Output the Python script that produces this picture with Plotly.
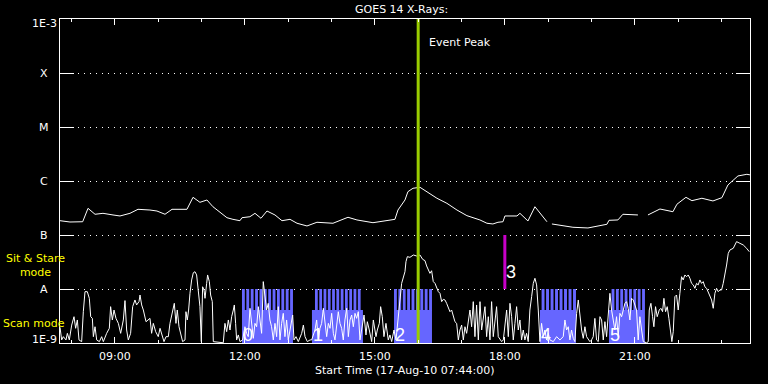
import numpy as np
import pandas as pd
import plotly.graph_objects as go

START = pd.Timestamp("2010-08-17 07:44:00")
END = pd.Timestamp("2010-08-17 23:39:30")
EVENT_PEAK = "2010-08-17 16:00:00"
EVENT3_TIME = "2010-08-17 18:00:00"
EVENT3_RANGE = [1e-8, 1e-7]

# (minutes after start, flux W/m^2) -- long channel (upper curve)
LONG = [
    (0, 1.84e-7), (13.8, 1.74e-7), (31.4, 1.76e-7), (38.8, 3.12e-7), (48.5, 2.42e-7),
    (59.5, 2.52e-7), (73.4, 2.35e-7), (83.1, 2.25e-7), (96.9, 2.52e-7), (108, 2.99e-7),
    (124.6, 2.90e-7), (134.3, 2.78e-7), (145.4, 2.42e-7), (155.1, 2.99e-7), (175.8, 2.99e-7),
    (180, 3.86e-7), (184.2, 4.99e-7), (193.8, 4.03e-7), (203.5, 4.45e-7), (211.8, 3.34e-7),
    (221.5, 2.59e-7), (231.2, 2.09e-7), (239.5, 1.95e-7), (249.2, 1.84e-7), (252, 2.09e-7),
    (263, 2.18e-7), (270, 2.52e-7), (278.3, 2.04e-7), (286.6, 2.78e-7), (297.7, 2.35e-7),
    (307.4, 1.84e-7), (318.5, 1.95e-7), (328.2, 1.65e-7), (342, 1.47e-7), (355.8, 1.72e-7),
    (378, 1.65e-7), (398.8, 2.13e-7), (411.2, 1.90e-7), (433.4, 1.69e-7), (447.2, 1.82e-7),
    (463.8, 1.95e-7), (468, 2.90e-7), (477.7, 4.45e-7), (481.8, 6.34e-7), (488.8, 7.33e-7),
    (498.5, 7.64e-7), (508.2, 6.34e-7), (522, 4.79e-7), (535.8, 3.86e-7), (549.7, 2.90e-7),
    (563.5, 2.28e-7), (581.5, 1.90e-7), (591.2, 1.65e-7), (599.5, 1.60e-7), (606.5, 1.72e-7),
    (613.4, 1.76e-7), (616.1, 2.25e-7), (632.8, 2.25e-7), (636.9, 2.52e-7), (648, 1.82e-7),
    (657.7, 3.34e-7), (667.4, 2.25e-7), (674.3, 1.76e-7), (677, None), (681.2, 1.60e-7),
    (696.5, 1.49e-7), (710.3, 1.39e-7), (731.1, 1.35e-7), (743.5, 1.47e-7), (757.4, 1.58e-7),
    (760.2, 1.87e-7), (772.6, 1.90e-7), (779.5, 2.42e-7), (800.3, 2.35e-7), (807, None),
    (814.2, 2.35e-7), (830.8, 3.03e-7), (848.8, 2.70e-7), (854.3, 3.71e-7), (866.8, 4.99e-7),
    (875.1, 4.32e-7), (888.9, 4.79e-7), (904.2, 4.27e-7), (916.6, 4.91e-7), (924.9, 8.43e-7),
    (938.8, 1.24e-6), (951.2, 1.33e-6), (955.4, 1.30e-6),
]

# (minutes after start, flux W/m^2) -- short channel (lower curve)
SHORT = [
    (0.0, 1.95e-9), (2.3, 1.14e-9), (4.6, 1.31e-9), (8.3, 1.14e-9), (10.2, 1.51e-9),
    (12.9, 1.14e-9), (16.2, 2.15e-9), (19.4, 3.07e-9), (21.7, 1.87e-9), (24.0, 2.67e-9),
    (26.3, 1.14e-9), (30.0, 1.06e-9), (32.3, 3.80e-9), (34.6, 8.92e-9), (37.8, 8.92e-9),
    (40.6, 6.72e-9), (42.5, 3.07e-9), (44.8, 2.86e-9), (46.2, 1.31e-9), (48.5, 2.00e-9),
    (50.8, 1.14e-9), (54.5, 1.06e-9), (57.7, 1.31e-9), (60.0, 1.06e-9), (64.6, 1.51e-9),
    (68.3, 1.87e-9), (70.1, 4.71e-9), (72.5, 2.67e-9), (74.8, 4.08e-9), (77.5, 2.86e-9),
    (80.8, 2.31e-9), (84.0, 1.51e-9), (87.7, 2.67e-9), (90.0, 6.10e-9), (92.3, 1.74e-9),
    (94.6, 1.14e-9), (97.8, 1.51e-9), (100.6, 4.71e-9), (103.8, 6.26e-9), (106.1, 5.06e-9),
    (109.4, 5.83e-9), (110.8, 7.74e-9), (113.1, 5.06e-9), (115.4, 4.08e-9), (119.1, 2.48e-9),
    (122.3, 2.67e-9), (124.6, 2.86e-9), (126.9, 1.51e-9), (129.2, 2.31e-9), (132.5, 1.62e-9),
    (136.1, 1.31e-9), (138.5, 1.87e-9), (140.8, 1.51e-9), (144.0, 1.06e-9), (146.8, 1.31e-9),
    (150.0, 1.31e-9), (152.3, 2.31e-9), (156.0, 3.80e-9), (158.3, 5.43e-9), (160.6, 2.31e-9),
    (162.4, 4.08e-9), (164.8, 2.00e-9), (167.1, 1.51e-9), (169.8, 1.06e-9), (173.1, 1.14e-9),
    (174.4, 3.80e-9), (176.3, 2.67e-9), (178.1, 4.08e-9), (180.0, 8.31e-9), (182.3, 1.47e-8),
    (184.6, 2.00e-8), (186.9, 2.09e-8), (189.2, 1.82e-8), (191.5, 1.03e-8), (193.8, 4.71e-9),
    (195.7, 1.06e-9), (197.5, 1.10e-8), (199.4, 9.58e-9), (200.8, 6.72e-9), (203.1, 1.27e-8),
    (204.4, 1.82e-8), (206.8, 1.37e-8), (208.6, 7.74e-9), (210.9, 5.83e-9), (212.3, 1.06e-9),
    (226.1, 1.01e-9), (228.4, 2.31e-9), (230.8, 1.62e-9), (233.1, 2.67e-9), (235.4, 1.74e-9),
    (237.7, 3.07e-9), (240.0, 4.08e-9), (241.4, 5.06e-9), (243.2, 2.31e-9), (244.6, 1.14e-9),
    (246.9, 1.41e-9), (249.2, 1.06e-9), (252.9, 1.14e-9), (256.1, 2.00e-9), (258.4, 1.51e-9),
    (260.7, 1.31e-9), (263.1, 4.39e-9), (265.4, 2.31e-9), (267.7, 1.22e-9), (270.0, 2.31e-9),
    (272.3, 2.00e-9), (274.6, 4.71e-9), (276.9, 2.67e-9), (279.2, 1.51e-9), (281.5, 1.37e-8),
    (283.8, 6.72e-9), (286.1, 4.08e-9), (288.4, 5.43e-9), (290.7, 2.67e-9), (293.0, 2.00e-9),
    (295.4, 1.14e-9), (297.7, 2.31e-9), (300.0, 1.31e-9), (302.3, 4.71e-9), (304.6, 1.14e-9),
    (306.9, 2.31e-9), (309.2, 3.54e-9), (311.5, 1.31e-9), (313.8, 2.67e-9), (316.1, 1.14e-9),
    (318.5, 1.74e-9), (322.2, 3.30e-9), (324.0, 1.14e-9), (326.8, 1.31e-9), (330.0, 1.06e-9),
    (334.7, 1.51e-9), (337.0, 2.15e-9), (339.3, 1.31e-9), (342.5, 1.06e-9), (346.2, 1.14e-9),
    (348.5, 1.14e-9), (353.1, 1.74e-9), (355.4, 2.67e-9), (357.7, 1.14e-9), (360.0, 1.87e-9),
    (362.3, 2.31e-9), (364.7, 4.39e-9), (367.0, 2.67e-9), (369.3, 1.31e-9), (371.6, 2.31e-9),
    (373.9, 1.87e-9), (376.2, 3.54e-9), (378.5, 1.51e-9), (380.8, 1.14e-9), (383.1, 2.00e-9),
    (385.4, 3.80e-9), (387.7, 2.31e-9), (390.0, 1.87e-9), (392.3, 1.14e-9), (394.6, 2.67e-9),
    (397.0, 4.39e-9), (399.3, 1.31e-9), (401.6, 2.67e-9), (403.9, 3.30e-9), (406.2, 2.00e-9),
    (408.5, 3.54e-9), (410.8, 2.86e-9), (413.1, 3.80e-9), (415.4, 1.14e-9), (417.7, 1.87e-9),
    (421.0, 3.30e-9), (423.7, 1.41e-9), (425.6, 2.48e-9), (428.3, 1.74e-9), (431.6, 1.06e-9),
    (433.9, 2.67e-9), (437.6, 1.31e-9), (439.4, 1.74e-9), (442.2, 2.31e-9), (444.0, 4.71e-9),
    (446.3, 3.07e-9), (448.6, 1.31e-9), (451.4, 2.31e-9), (454.6, 1.14e-9), (456.9, 1.41e-9),
    (459.3, 1.06e-9), (462.5, 1.74e-9), (465.3, 1.14e-9), (468.5, 3.80e-9), (470.8, 6.26e-9),
    (473.1, 1.27e-8), (475.4, 1.58e-8), (477.7, 2.09e-8), (479.1, 3.21e-8), (481.0, 3.97e-8),
    (484.6, 3.86e-8), (489.3, 4.26e-8), (493.9, 4.09e-8), (498.5, 4.26e-8), (502.2, 3.54e-8),
    (505.4, 3.35e-8), (507.7, 2.67e-8), (510.0, 2.31e-8), (512.3, 1.95e-8), (514.6, 2.18e-8),
    (516.9, 1.37e-8), (519.3, 1.27e-8), (521.6, 1.03e-8), (523.9, 8.92e-9), (526.2, 8.31e-9),
    (528.5, 5.83e-9), (530.8, 6.44e-9), (533.1, 6.26e-9), (535.4, 5.43e-9), (537.7, 4.39e-9),
    (540.0, 3.80e-9), (542.3, 4.08e-9), (544.6, 3.07e-9), (546.9, 2.48e-9), (549.3, 2.31e-9),
    (551.6, 1.14e-9), (553.9, 1.74e-9), (556.2, 2.15e-9), (558.5, 1.14e-9), (560.8, 2.00e-9),
    (563.1, 1.51e-9), (565.4, 2.67e-9), (567.7, 4.08e-9), (570.0, 2.00e-9), (572.3, 5.83e-9),
    (574.6, 1.31e-9), (576.9, 5.06e-9), (579.3, 1.14e-9), (581.6, 5.83e-9), (583.9, 1.74e-9),
    (586.2, 3.07e-9), (588.5, 4.71e-9), (590.8, 1.31e-9), (593.1, 3.07e-9), (595.4, 1.14e-9),
    (597.7, 5.83e-9), (600.0, 1.31e-9), (602.3, 2.31e-9), (604.6, 4.71e-9), (606.9, 1.31e-9),
    (609.3, 1.14e-9), (611.6, 1.06e-9), (613.9, 1.14e-9), (616.2, 2.31e-9), (618.5, 4.08e-9),
    (620.8, 1.31e-9), (623.1, 5.43e-9), (625.4, 3.07e-9), (627.7, 1.14e-9), (630.0, 2.31e-9),
    (632.3, 4.71e-9), (634.6, 1.74e-9), (636.9, 2.67e-9), (639.2, 1.14e-9), (641.5, 1.74e-9),
    (643.8, 1.14e-9), (646.1, 1.51e-9), (648.4, 1.06e-9), (650.7, 4.08e-9), (653.1, 7.21e-9),
    (655.4, 1.27e-8), (657.7, 1.58e-8), (660.0, 1.19e-8), (662.3, 4.08e-9), (664.6, 1.06e-9),
    (666.9, 2.31e-9), (669.2, 1.31e-9), (671.5, 1.74e-9), (673.8, 1.14e-9), (676.1, 1.51e-9),
    (678.4, 1.14e-9), (683.1, 1.06e-9), (687.7, 1.31e-9), (692.3, 1.14e-9), (696.9, 1.31e-9),
    (699.2, 2.67e-9), (701.5, 1.74e-9), (703.8, 2.00e-9), (706.1, 1.14e-9), (708.4, 1.74e-9),
    (710.7, 1.22e-9), (713.0, 1.06e-9), (715.4, 3.54e-9), (717.7, 6.26e-9), (720.0, 3.07e-9),
    (722.3, 1.74e-9), (724.6, 1.22e-9), (726.9, 2.00e-9), (729.2, 1.31e-9), (731.5, 1.14e-9),
    (733.8, 1.06e-9), (736.1, 1.14e-9), (738.4, 1.31e-9), (740.7, 2.86e-9), (743.0, 1.14e-9),
    (745.4, 1.06e-9), (747.7, 3.07e-9), (750.0, 2.67e-9), (752.3, 1.14e-9), (754.6, 2.48e-9),
    (756.9, 1.31e-9), (759.2, 3.30e-9), (761.5, 8.31e-9), (763.8, 4.08e-9), (766.1, 2.67e-9),
    (768.4, 1.74e-9), (770.7, 3.07e-9), (773.0, 1.31e-9), (775.4, 3.54e-9), (777.7, 3.07e-9),
    (780.0, 4.08e-9), (782.3, 5.43e-9), (784.6, 5.83e-9), (786.9, 4.39e-9), (789.2, 2.67e-9),
    (791.5, 6.72e-9), (793.8, 6.26e-9), (796.1, 5.06e-9), (798.4, 4.08e-9), (800.7, 1.14e-9),
    (803.0, 3.07e-9), (805.4, 1.74e-9), (807.7, 1.06e-9), (812.3, 1.01e-9), (814.6, 1.06e-9),
    (816.0, 4.08e-9), (818.3, 5.43e-9), (820.6, 3.07e-9), (822.4, 2.00e-9), (824.7, 4.71e-9),
    (827.0, 3.07e-9), (829.8, 4.08e-9), (832.1, 4.39e-9), (834.4, 3.80e-9), (836.3, 6.72e-9),
    (838.6, 3.80e-9), (840.9, 4.71e-9), (843.2, 2.86e-9), (845.5, 1.74e-9), (847.3, 1.06e-9),
    (849.2, 1.62e-9), (851.5, 7.21e-9), (853.8, 7.74e-9), (856.1, 4.08e-9), (858.4, 8.31e-9),
    (860.7, 1.69e-8), (863.0, 1.47e-8), (865.3, 1.82e-8), (867.7, 1.69e-8), (870.0, 1.82e-8),
    (872.3, 1.58e-8), (874.6, 1.27e-8), (876.9, 1.19e-8), (879.2, 1.03e-8), (881.5, 1.27e-8),
    (883.8, 1.19e-8), (886.1, 1.47e-8), (888.4, 1.27e-8), (890.7, 1.37e-8), (893.0, 1.10e-8),
    (895.4, 1.03e-8), (897.7, 8.92e-9), (900.0, 7.74e-9), (902.3, 6.26e-9), (904.6, 4.39e-9),
    (906.9, 8.31e-9), (909.2, 1.03e-8), (911.5, 8.92e-9), (913.8, 9.58e-9), (916.1, 9.58e-9),
    (918.4, 1.27e-8), (920.7, 1.82e-8), (923.1, 2.78e-8), (925.4, 4.57e-8), (927.7, 5.28e-8),
    (932.3, 5.67e-8), (936.9, 7.53e-8), (941.5, 7.02e-8), (946.2, 6.53e-8), (950.8, 5.67e-8),
    (954.5, 4.91e-8),
]

# Scan blocks: label, fill start, fill end, stripe start, stripe end (minutes after start), stripe count
SCAN_BLOCKS = [
    ("0", 252.0, 322.6, 252.0, 322.6, 12),
    ("1", 348.9, 419.5, 353.1, 416.3, 11),
    ("2", 462.5, 515.1, 462.5, 515.1, 9),
    ("4", 664.6, 714.5, 666.9, 714.5, 8),
    ("5", 760.2, 810.0, 763.8, 810.0, 8),
]
SCAN_LEVEL = 4.08e-9
STARE_LEVEL = 1e-8
YFLOOR = 1e-9

Y_TICKS = [1e-9, 1e-8, 1e-7, 1e-6, 1e-5, 1e-4, 1e-3]
Y_TEXT = ["1E-9", "A", "B", "C", "M", "X", "1E-3"]


def t(m):
    return START + pd.Timedelta(minutes=m)


fig = go.Figure()

# blue scan / sit-stare blocks
bx, by = [], []
for lab, f0, f1, s0, s1, n in SCAN_BLOCKS:
    bx += [t(f0), t(f1), t(f1), t(f0), t(f0), None]
    by += [YFLOOR, YFLOOR, SCAN_LEVEL, SCAN_LEVEL, YFLOOR, None]
    p = (s1 - s0) / (n - 1 + 0.65)
    w = 0.65 * p
    for k in range(n):
        xa = s0 + k * p
        xb = xa + w
        bx += [t(xa), t(xb), t(xb), t(xa), t(xa), None]
        by += [SCAN_LEVEL * 0.98, SCAN_LEVEL * 0.98, STARE_LEVEL, STARE_LEVEL, SCAN_LEVEL * 0.98, None]
fig.add_trace(go.Scatter(x=bx, y=by, mode="lines", fill="toself", fillcolor="#6666ff",
                         line=dict(width=0, color="#6666ff"), hoverinfo="skip", showlegend=False))

fig.add_trace(go.Scatter(x=[t(m) for m, v in SHORT], y=[v for m, v in SHORT], mode="lines",
                         line=dict(color="white", width=1), showlegend=False))
fig.add_trace(go.Scatter(x=[t(m) for m, v in LONG], y=[v for m, v in LONG], mode="lines",
                         line=dict(color="white", width=1), connectgaps=False, showlegend=False))

fig.add_trace(go.Scatter(x=[EVENT_PEAK, EVENT_PEAK], y=[1e-9, 1e-3], mode="lines",
                         line=dict(color="#99cc00", width=3), showlegend=False))
fig.add_trace(go.Scatter(x=[EVENT3_TIME, EVENT3_TIME], y=EVENT3_RANGE, mode="lines",
                         line=dict(color="#c800c8", width=3), showlegend=False))

PW, PH, L, T = 690, 324, 60, 19
FIG_W, FIG_H = 768, 384


def px(xp):
    return (xp - L) / PW


def py(yp):
    return (T + PH - yp) / PH


FONT = "DejaVu Sans"
ann = []
ycent = {"1E-3": 23, "X": 73.5, "M": 127.5, "C": 181.5, "B": 235.5, "A": 289.5, "1E-9": 339.5}
for v, s in zip(Y_TICKS, Y_TEXT):
    ann.append(dict(text=s, xref="paper", yref="paper", x=px(44), y=py(ycent[s]),
                    xanchor="center", yanchor="middle", showarrow=False,
                    font=dict(family=FONT, size=11, color="white")))
ann.append(dict(text="Sit & Stare<br>mode", xref="paper", yref="paper", x=px(35), y=py(265),
                xanchor="center", yanchor="middle", showarrow=False,
                font=dict(family=FONT, size=11, color="#ffff00")))
ann.append(dict(text="Scan mode", xref="paper", yref="paper", x=px(1), y=py(323.5),
                xanchor="left", yanchor="middle", showarrow=False,
                font=dict(family=FONT, size=11, color="#ffff00")))
ann.append(dict(text="Event Peak", xref="paper", yref="paper", x=px(427), y=py(42.5),
                xanchor="left", yanchor="middle", showarrow=False,
                font=dict(family=FONT, size=11, color="white")))
ann.append(dict(text="GOES 14 X-Rays:", xref="paper", yref="paper", x=px(401), y=py(9),
                xanchor="center", yanchor="middle", showarrow=False,
                font=dict(family=FONT, size=11, color="white")))
ann.append(dict(text="Start Time (17-Aug-10 07:44:00)", xref="paper", yref="paper", x=px(404),
                y=py(370), xanchor="center", yanchor="middle", showarrow=False,
                font=dict(family=FONT, size=11, color="white")))
for lab, f0, f1, s0, s1, n in SCAN_BLOCKS:
    ann.append(dict(text=lab, xref="x", yref="paper", x=t(f0), y=py(334.5), xanchor="left",
                    yanchor="middle", xshift=-1, showarrow=False,
                    font=dict(family="Liberation Sans", size=18, color="white")))
ann.append(dict(text="3", xref="x", yref="paper", x=EVENT3_TIME, y=py(271.5), xanchor="left",
                yanchor="middle", xshift=-1, showarrow=False,
                font=dict(family="Liberation Sans", size=18, color="white")))

fig.update_layout(
    width=FIG_W, height=FIG_H,
    margin=dict(l=L, r=FIG_W - L - PW, t=T, b=FIG_H - T - PH),
    paper_bgcolor="black", plot_bgcolor="black",
    showlegend=False,
    annotations=ann,
    xaxis=dict(type="date", range=[START, END], tickformat="%H:%M",
               tick0="2010-08-17 09:00:00", dtick=3 * 3600 * 1000,
               ticks="inside", ticklen=6, tickcolor="white", tickwidth=1,
               ticklabelstandoff=3,
               showline=True, linecolor="white", linewidth=1, mirror="ticks",
               showgrid=False, zeroline=False,
               tickfont=dict(family=FONT, size=11, color="white"),
               minor=dict(dtick=3600 * 1000, tick0="2010-08-17 08:00:00", ticks="inside",
                          ticklen=3, tickcolor="white", showgrid=False)),
    yaxis=dict(type="log", range=[-9, -3], tickvals=Y_TICKS, showticklabels=False,
               ticks="inside", ticklen=14, tickcolor="white", tickwidth=1,
               showline=True, linecolor="white", linewidth=1, mirror="ticks",
               showgrid=True, gridcolor="white", gridwidth=1, griddash="1px,5px",
               zeroline=False),
)

fig.write_html("out.html", config={"displayModeBar": False},
               post_script="document.body.style.margin='0';document.body.style.background='black';")
